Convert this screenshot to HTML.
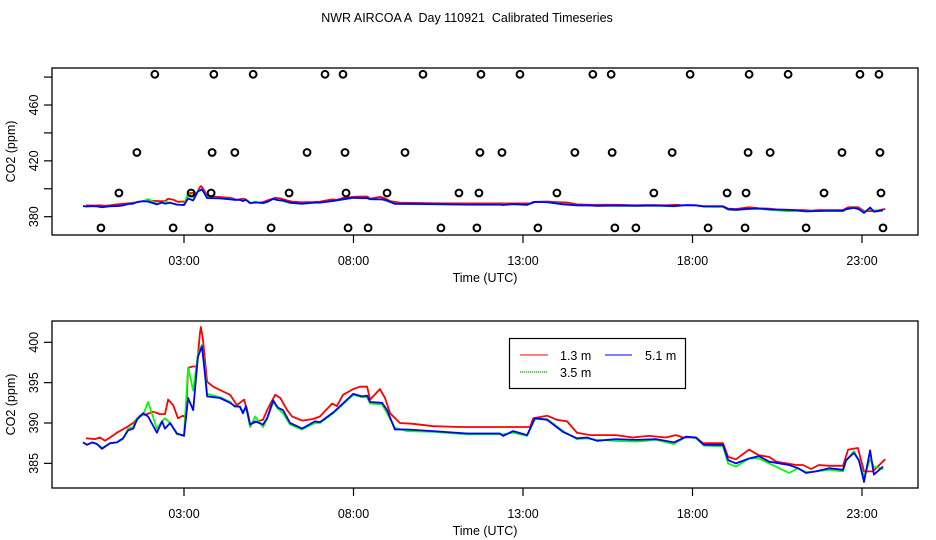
<!DOCTYPE html>
<html><head><meta charset="utf-8"><style>
html,body{margin:0;padding:0;background:#fff}
svg{display:block;font-family:"Liberation Sans",sans-serif}
text{font-size:12.5px;fill:#000}
</style></head><body>
<svg id="chart" width="936" height="540" viewBox="0 0 936 540" xmlns="http://www.w3.org/2000/svg">
<text x="467" y="22" text-anchor="middle" xml:space="preserve">NWR AIRCOA A  Day 110921  Calibrated Timeseries</text>
<g id="top"></g>
<g id="bot"></g>
</svg>
<script>
const xTicks = [3, 8, 13, 18, 23];
const xTickLabels = ["03:00", "08:00", "13:00", "18:00", "23:00"];
const topYTicks = [380, 400, 420, 440, 460, 480];
const topYLabels = ["380", "", "420", "", "460", ""];
const botYTicks = [385, 390, 395, 400];
const botYLabels = ["385", "390", "395", "400"];

const blueHours = [0.02,0.14,0.29,0.43,0.58,0.82,1.02,1.20,1.35,1.50,1.61,1.79,1.94,2.20,2.35,2.44,2.59,2.79,3.00,3.12,3.27,3.41,3.53,3.62,3.68,4.06,4.36,4.50,4.65,4.74,4.83,4.95,5.10,5.33,5.45,5.63,5.77,5.92,6.13,6.48,6.86,7.01,7.40,7.99,8.25,8.40,8.49,8.84,8.99,9.22,9.58,10.35,11.35,12.32,12.41,12.71,13.12,13.35,13.71,14.18,14.59,14.89,15.18,15.74,16.33,16.92,17.45,17.81,18.10,18.34,18.90,19.05,19.28,19.67,19.96,20.26,20.85,21.11,21.35,21.64,22.03,22.44,22.53,22.76,22.91,23.06,23.24,23.35,23.62];
const blueValues = [387.6,387.3,387.6,387.4,386.8,387.5,387.6,388.1,389.1,389.3,390.4,391.2,390.8,388.8,390.2,389.3,390.0,388.7,388.4,393.1,391.6,398.2,399.5,396.0,393.3,393.1,392.5,392.1,392.0,391.2,392.1,389.8,390.2,389.8,390.6,392.8,391.9,391.6,390.0,389.3,390.2,390.1,391.3,393.6,393.3,393.4,392.6,392.5,391.6,389.2,389.2,389.0,388.7,388.7,388.4,389.0,388.5,390.6,390.4,388.9,388.1,388.2,387.8,388.0,387.9,388.0,387.6,388.3,388.2,387.3,387.3,385.4,385.0,385.6,385.9,385.2,384.8,384.4,383.8,384.0,384.4,384.2,385.4,386.3,385.4,382.7,386.6,383.6,384.6];
const greenValues = [387.6,387.3,387.6,387.4,386.9,387.5,387.6,388.0,389.3,389.5,390.6,391.0,392.6,389.3,390.2,390.6,390.0,388.6,388.5,396.9,394.0,398.5,399.7,396.5,393.6,393.2,392.6,392.0,392.1,391.4,392.0,389.5,390.8,389.5,390.5,392.6,391.8,391.2,389.8,389.2,390.0,390.0,391.2,393.5,393.2,393.2,392.4,392.3,391.2,389.4,389.0,388.9,388.6,388.6,388.6,388.8,388.4,390.5,390.5,389.0,388.0,388.1,387.9,387.8,387.7,387.9,387.4,388.3,388.1,387.2,387.1,385.0,384.6,385.6,385.6,385.0,383.8,384.4,383.9,384.0,384.2,384.0,385.3,386.5,385.3,383.3,385.5,384.6,384.3];
const redHours = [0.11,0.38,0.52,0.67,0.82,1.02,1.32,1.50,1.70,1.91,2.09,2.29,2.44,2.53,2.68,2.82,2.97,3.06,3.12,3.24,3.38,3.47,3.50,3.56,3.68,3.86,4.15,4.36,4.56,4.77,4.86,4.95,5.15,5.33,5.45,5.69,5.84,6.04,6.19,6.48,6.81,7.01,7.37,7.51,7.69,7.99,8.19,8.40,8.49,8.78,8.93,9.08,9.37,9.75,10.35,11.14,12.32,12.91,13.21,13.30,13.71,14.00,14.30,14.59,14.98,15.48,15.74,16.24,16.71,17.21,17.51,17.72,18.10,18.31,18.90,19.05,19.28,19.67,19.96,20.26,20.47,21.06,21.26,21.50,21.73,22.03,22.44,22.59,22.88,23.06,23.32,23.68];
const redValues = [388.1,388.0,388.2,387.8,388.2,388.8,389.5,390.0,390.9,391.1,391.4,391.1,391.1,392.9,392.2,390.6,390.9,390.6,396.8,397.0,397.0,401.1,401.9,400.3,395.1,394.5,393.9,393.5,392.2,392.9,391.6,389.8,390.2,390.4,391.6,393.5,393.1,391.6,390.8,390.3,390.5,390.8,392.4,392.1,393.5,394.2,394.5,394.5,392.9,394.2,393.1,391.2,390.0,389.9,389.6,389.5,389.5,389.5,389.5,390.6,390.9,390.4,390.2,388.8,388.5,388.5,388.5,388.2,388.4,388.2,388.5,388.2,388.2,387.5,387.5,385.8,385.5,386.7,386.0,385.8,385.2,384.8,384.8,384.3,384.8,384.7,384.7,386.7,386.9,384.0,384.0,385.5];

const flagHours = [2.14,3.88,5.04,7.16,7.69,10.05,11.76,12.91,15.06,15.60,17.93,19.67,20.82,22.94,23.50,
 1.61,3.83,4.50,6.63,7.75,9.52,11.73,12.38,14.53,15.63,17.40,19.64,20.29,22.41,23.53,
 1.08,3.21,3.80,6.10,7.78,8.99,11.11,11.70,14.00,16.86,19.02,19.58,21.88,23.56,
 0.55,2.68,3.74,5.57,7.84,8.43,10.58,11.64,13.44,15.71,16.33,18.46,19.55,21.35,23.62];
const flagValues = [482,482,482,482,482,482,482,482,482,482,482,482,482,482,482,
 426,426,426,426,426,426,426,426,426,426,426,426,426,426,426,
 397,397,397,397,397,397,397,397,397,397,397,397,397,397,
 372,372,372,372,372,372,372,372,372,372,372,372,372,372,372];

const NS = "http://www.w3.org/2000/svg";
function mk(parent, tag, attrs, text) {
  const el = document.createElementNS(NS, tag);
  for (const k in attrs) el.setAttribute(k, attrs[k]);
  if (text !== undefined) el.textContent = text;
  parent.appendChild(el);
  return el;
}
const L = 52, R = 918;
function xs(h) { return 184 + (h - 3) * 33.9; }

function drawPanel(g, top, bottom, yScale, yTicks, yLabels, prefix) {
  const box = mk(g, "rect", {x: L, y: top, width: R - L, height: bottom - top, fill: "none", stroke: "#000", "stroke-width": 1.3});
  
  
  xTicks.forEach((t, i) => {
    const tk = mk(g, "line", {x1: xs(t), x2: xs(t), y1: bottom, y2: bottom + 8, stroke: "#000", "stroke-width": 1.2});
    
    
    const lb = mk(g, "text", {x: xs(t), y: bottom + 30, "text-anchor": "middle"}, xTickLabels[i]);
    
    
  });
  yTicks.forEach((t, i) => {
    const y = yScale(t);
    const tk = mk(g, "line", {x1: L - 8, x2: L, y1: y, y2: y, stroke: "#000", "stroke-width": 1.2});
    
    
    if (yLabels[i]) {
      const lb = mk(g, "text", {x: 0, y: 0, "text-anchor": "middle", transform: "translate(" + (L - 14) + "," + y + ") rotate(-90)"}, yLabels[i]);
      
      
    }
  });
  const xt = mk(g, "text", {x: 485, y: bottom + 47, "text-anchor": "middle"}, "Time (UTC)");
  
  
  const yt = mk(g, "text", {x: 0, y: 0, "text-anchor": "middle", transform: "translate(15," + ((top + bottom) / 2) + ") rotate(-90)"}, "CO2 (ppm)");
  
  
}
function drawLine(g, hours, vals, yScale, color, name) {
  const pts = hours.map((h, i) => xs(h).toFixed(1) + "," + yScale(vals[i]).toFixed(1)).join(" ");
  const p = mk(g, "polyline", {points: pts, fill: "none", stroke: color, "stroke-width": 1.8, "stroke-linejoin": "round"});
  
  
}

const gt = document.getElementById("top");
const yTop = v => 216.7 - (v - 380) * 1.396;
drawPanel(gt, 68, 235, yTop, topYTicks, topYLabels, "top");
drawLine(gt, redHours, redValues, yTop, "#ff0000", "top-series-1-3m");
drawLine(gt, blueHours, greenValues, yTop, "#00ff00", "top-series-3-5m");
drawLine(gt, blueHours, blueValues, yTop, "#0000ff", "top-series-5-1m");
flagHours.forEach((h, i) => {
  const c = mk(gt, "circle", {cx: xs(h), cy: yTop(flagValues[i]), r: 3.4, fill: "none", stroke: "#000", "stroke-width": 2});
  
  
});

const gb = document.getElementById("bot");
const yBot = v => 342.3 + (400 - v) * 8.07;
const cp = mk(gb, "clipPath", {id: "bclip"});
mk(cp, "rect", {x: L, y: 321, width: R - L, height: 167});
drawPanel(gb, 321, 488, yBot, botYTicks, botYLabels, "bottom");
const gs = mk(gb, "g", {"clip-path": "url(#bclip)"});
drawLine(gs, redHours, redValues, yBot, "#ff0000", "bottom-series-1-3m");
drawLine(gs, blueHours, greenValues, yBot, "#00ff00", "bottom-series-3-5m");
drawLine(gs, blueHours, blueValues, yBot, "#0000ff", "bottom-series-5-1m");

const lg = mk(gb, "g", {});


mk(lg, "rect", {x: 509.5, y: 338.5, width: 176, height: 50, fill: "#fff", stroke: "#000", "stroke-width": 1.2});
const e1 = mk(lg, "line", {x1: 520, x2: 548, y1: 355, y2: 355, stroke: "#ff0000", "stroke-width": 1});


mk(lg, "text", {x: 560, y: 360}, "1.3 m");
const e2 = mk(lg, "line", {x1: 520, x2: 548, y1: 372, y2: 372, stroke: "#00aa00", "stroke-width": 1.2, "stroke-dasharray": "1,1"});


mk(lg, "text", {x: 560, y: 377}, "3.5 m");
const e3 = mk(lg, "line", {x1: 605, x2: 632, y1: 355, y2: 355, stroke: "#0000ff", "stroke-width": 1});


mk(lg, "text", {x: 645, y: 360}, "5.1 m");
</script>
</body></html>
